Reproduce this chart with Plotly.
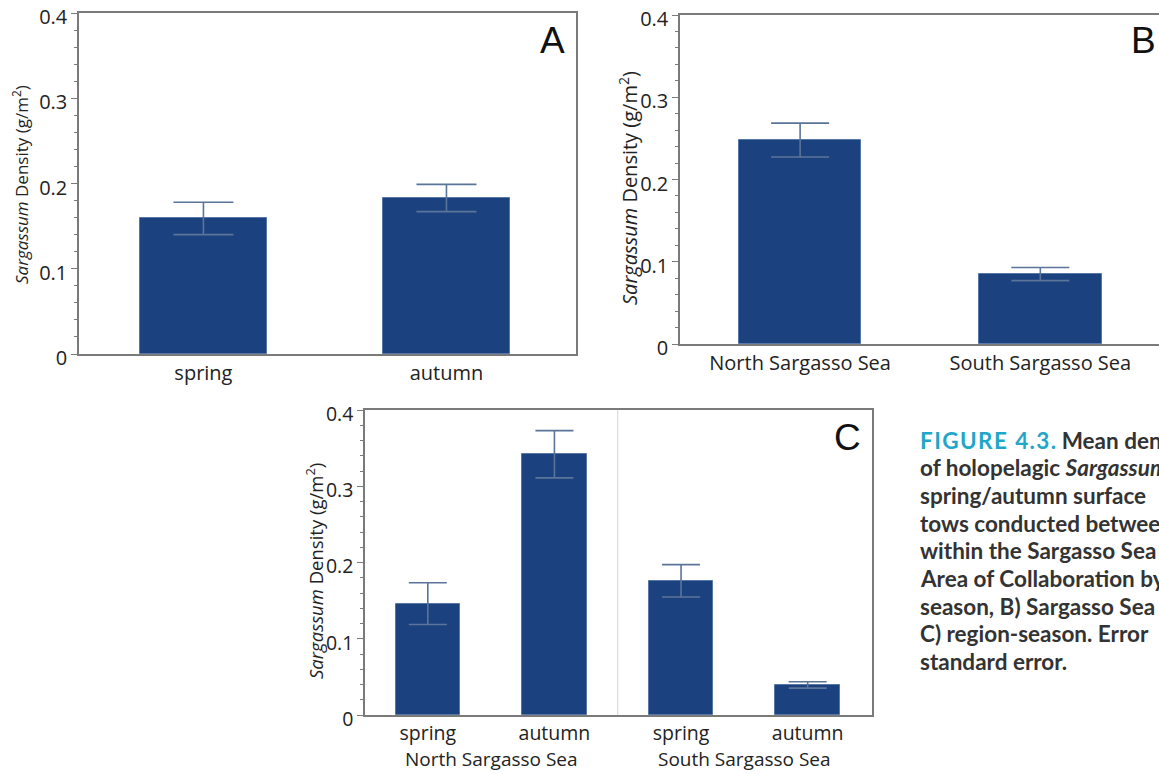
import plotly.graph_objects as go

# ---- data ----
seasons_a = ["spring", "autumn"]
density_a = [0.159, 0.183]
se_a = [0.019, 0.016]

regions_b = ["North Sargasso Sea", "South Sargasso Sea"]
density_b = [0.248, 0.085]
se_b = [0.0206, 0.008]

seasons_c = ["spring", "autumn", "spring", "autumn"]
regions_c = ["North Sargasso Sea", "North Sargasso Sea", "South Sargasso Sea", "South Sargasso Sea"]
density_c = [0.146, 0.342, 0.176, 0.0394]
se_c = [0.0274, 0.031, 0.0212, 0.0042]

ytick_vals = [0, 0.1, 0.2, 0.3, 0.4]
ytick_text = ["0", "0.1", "0.2", "0.3", "0.4"]

fig_label = "FIGURE 4.3."
caption_lines = [
    "<b><span style='color:#1fa6c9'>" + "\u200a".join(fig_label) + "</span> Mean density</b>",
    "<b>of holopelagic <i>Sargassum</i></b>",
    "<b>spring/autumn surface</b>",
    "<b>tows conducted between</b>",
    "<b>within the Sargasso Sea</b>",
    "<b>Area of Collaboration by</b>",
    "<b>season, B) Sargasso Sea</b>",
    "<b>C) region-season. Error</b>",
    "<b>standard error.</b>",
]

W, H = 1159, 774
BAR = "#1c417f"
BAR_LINE = "#5677a8"
ERR = "#5b7499"
AXIS = "#7a7a7a"
FONT = "Open Sans"

def px(x):
    return x / W

def py(y):
    return 1 - y / H

fig = go.Figure()

def add_bars(xs, ys, es, xa, ya, width, capw):
    fig.add_trace(go.Bar(
        x=xs, y=ys, width=width,
        marker=dict(color=BAR, line=dict(color=BAR_LINE, width=1)),
        error_y=dict(type="data", array=es, visible=True, color=ERR,
                     thickness=1.6, width=capw),
        xaxis=xa, yaxis=ya, showlegend=False,
    ))

add_bars(list(range(len(seasons_a))), density_a, se_a, "x", "y", 0.52, 30)
add_bars(list(range(len(regions_b))), density_b, se_b, "x2", "y2", 0.51, 29)
add_bars(list(range(len(seasons_c))), density_c, se_c, "x3", "y3", 0.51, 19)

def yaxis_style(domain, anchor, mirror=True, size=20):
    return dict(
        domain=domain, anchor=anchor, range=[0, 0.4],
        tickvals=ytick_vals, ticktext=ytick_text,
        ticks="outside", ticklen=6, tickcolor=AXIS, tickwidth=1,
        minor=dict(dtick=0.02, ticks="outside", ticklen=3, tickcolor=AXIS, tickwidth=1),
        showline=True, linecolor=AXIS, linewidth=1.5, mirror=mirror,
        showgrid=False, zeroline=False, automargin=False,
        tickfont=dict(family=FONT, size=size, color="#222"),
        ticklabelshift=4,
    )

def xaxis_style(domain, anchor, rng, vals, text, size=20):
    return dict(
        domain=domain, anchor=anchor, range=rng,
        tickvals=vals, ticktext=text, ticks="",
        showline=True, linecolor=AXIS, linewidth=1.5, mirror=True,
        showgrid=False, zeroline=False, automargin=False,
        tickfont=dict(family=FONT, size=size, color="#222"),
    )

fig.update_layout(
    width=W, height=H,
    margin=dict(l=0, r=0, t=0, b=0, autoexpand=False),
    paper_bgcolor="white", plot_bgcolor="white",
    bargap=0,
    xaxis=xaxis_style([px(79), px(576)], "y", [-0.512, 1.533],
                      list(range(len(seasons_a))), seasons_a),
    yaxis=yaxis_style([py(354), py(13)], "x"),
    xaxis2=xaxis_style([px(680), 1.0], "y2", [-0.50, 1.494],
                       list(range(len(regions_b))), regions_b),
    yaxis2=yaxis_style([py(344), py(15)], "x2", mirror=False),
    xaxis3=xaxis_style([px(365), px(872)], "y3", [-0.496, 3.508],
                       list(range(len(seasons_c))), seasons_c, size=19.5),
    yaxis3=yaxis_style([py(715), py(410)], "x3", size=19.5),
)

# divider between regions in panel C
fig.add_shape(type="line", xref="x3", yref="y3 domain", x0=1.5, x1=1.5, y0=0, y1=1,
              line=dict(color="#d4d4d4", width=1))

ann = []
ytitle = "<i>Sargassum</i> Density (g/m<sup>2</sup>)"
for xp, yp, size in [(20, 185, 17), (628, 188, 20), (314, 571, 18.5)]:
    ann.append(dict(x=px(xp), y=py(yp), xref="paper", yref="paper", text=ytitle,
                    textangle=-90, showarrow=False, xanchor="center", yanchor="middle",
                    font=dict(family=FONT, size=size, color="#222")))

for lab, xp, yp in [("A", 552, 41), ("B", 1143, 41), ("C", 847, 437)]:
    ann.append(dict(x=px(xp), y=py(yp), xref="paper", yref="paper", text=lab,
                    showarrow=False, xanchor="center", yanchor="middle",
                    font=dict(family="Liberation Sans", size=37, color="#111")))

# region group labels in panel C
region_names = []
for r in regions_c:
    if r not in region_names:
        region_names.append(r)
for i, r in enumerate(region_names):
    idx = [k for k, rr in enumerate(regions_c) if rr == r]
    ann.append(dict(x=sum(idx) / len(idx), xref="x3", y=py(759), yref="paper", text=r,
                    showarrow=False, xanchor="center", yanchor="middle", borderpad=0,
                    font=dict(family=FONT, size=19, color="#222")))

for i, line in enumerate(caption_lines):
    ann.append(dict(x=px(918), y=py(440 + i * 27.7), xref="paper", yref="paper",
                    text=line, showarrow=False, xanchor="left", yanchor="middle",
                    font=dict(family="Lato", size=22.5, color="#333")))

fig.update_layout(annotations=ann)

fig.write_html("out.html")
